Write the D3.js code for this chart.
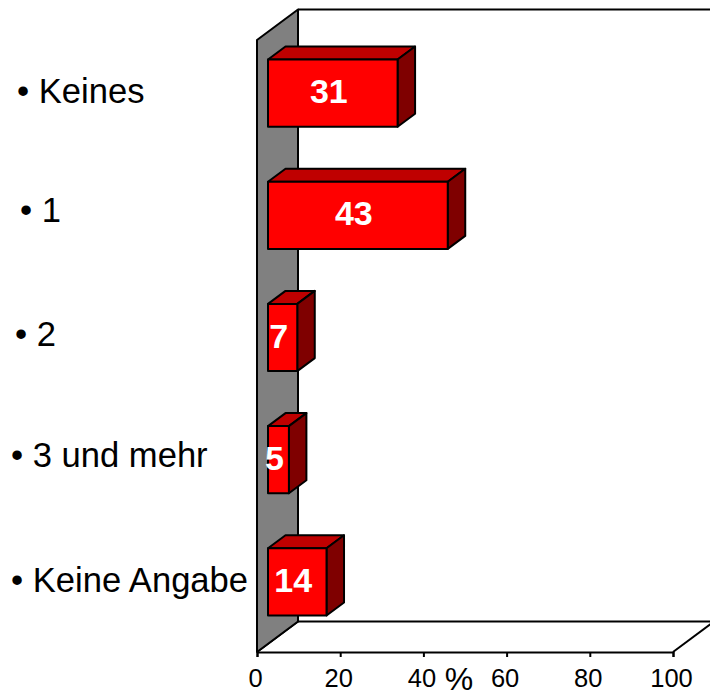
<!DOCTYPE html>
<html>
<head>
<meta charset="utf-8">
<script src="https://cdn.jsdelivr.net/npm/d3@7"></script>
<style>
  html, body { margin: 0; padding: 0; background: #fff; }
  svg { display: block; }
  text { font-family: "Liberation Sans", Arial, sans-serif; }
</style>
</head>
<body>
<div class="chart"></div>
<script>
const categories = ['Keines', '1', '2', '3 und mehr', 'Keine Angabe'];
const values = [31, 43, 7, 5, 14];
const xTicks = [0, 20, 40, 60, 80, 100];
const axisUnit = '%';

// the labels were placed by hand in the original, so they don't sit on a grid
const labelX = [17, 20, 15, 11, 11];
const labelY = [103, 222, 346, 467, 592];

const width = 710;
const height = 691;

const x = d3.scaleLinear().domain([0, 100]).range([257, 673]);
const y = d3.scaleBand().domain(categories).range([32, 643]).paddingInner(0.45).paddingOuter(0.225);
// front face of the bars runs a bit longer than the floor axis
const barLength = d3.scaleLinear().domain([0, 100]).range([0, 418]);

const wallTop = 40, wallBottom = 652;
const wallDx = 41, wallDy = -30.5;
const barInset = 11;   // bars float off the wall
const barDx = 17.5, barDy = -13;

const svg = d3.select('.chart')
  .append('svg')
  .attr('width', width)
  .attr('height', height);

const lineStyle = sel => sel.attr('stroke', '#000').attr('stroke-width', 2).attr('stroke-linejoin', 'round');

// back wall, floor
svg.append('path')
  .attr('d', `M${x(0) + wallDx},${wallTop + wallDy}H${width + 5}`)
  .attr('fill', 'none')
  .call(lineStyle);

svg.append('path')
  .attr('d', `M${x(0) + wallDx},${wallTop + wallDy}V${wallBottom + wallDy}H${width + 5}`)
  .attr('fill', 'none')
  .call(lineStyle);

svg.append('path')
  .attr('d', `M${x(0)},${wallBottom}L${x(0) + wallDx},${wallBottom + wallDy}`)
  .attr('fill', 'none')
  .call(lineStyle);

svg.append('path')
  .attr('d', `M${x(100)},${wallBottom}L${x(100) + wallDx},${wallBottom + wallDy}`)
  .attr('fill', 'none')
  .call(lineStyle);

// grey side wall
svg.append('path')
  .attr('d', `M${x(0)},${wallTop}L${x(0) + wallDx},${wallTop + wallDy}V${wallBottom + wallDy}L${x(0)},${wallBottom}Z`)
  .attr('fill', '#808080')
  .call(lineStyle);

// x axis
const xAxis = d3.axisBottom(x)
  .tickValues(xTicks)
  .tickSize(5)
  .tickFormat(d3.format('d'));

const axisG = svg.append('g')
  .attr('transform', `translate(0,${wallBottom})`)
  .call(xAxis);

axisG.select('.domain').attr('stroke-width', 2).attr('stroke', '#000');
axisG.selectAll('.tick line').attr('stroke-width', 2).attr('stroke', '#000');
axisG.selectAll('.tick text')
  .attr('font-size', 25.5)
  .attr('font-family', '"Liberation Sans", Arial, sans-serif')
  .attr('fill', '#000')
  .attr('dx', -2)
  .attr('y', 17)
  .attr('dy', '0.71em');

svg.append('text')
  .attr('x', 459)
  .attr('y', 689.5)
  .attr('text-anchor', 'middle')
  .attr('font-size', 32)
  .text(axisUnit);

// bars
const bars = svg.selectAll('.bar')
  .data(categories)
  .enter()
  .append('g')
  .attr('class', 'bar');

const left = x(0) + barInset;
const right = (d, i) => left + barLength(values[i]);

bars.append('path')
  .attr('d', (d, i) => `M${left},${y(d)}l${barDx},${barDy}H${right(d, i) + barDx}L${right(d, i)},${y(d)}Z`)
  .attr('fill', '#bf0000')
  .call(lineStyle);

bars.append('path')
  .attr('d', (d, i) => `M${right(d, i)},${y(d)}l${barDx},${barDy}v${y.bandwidth()}l${-barDx},${-barDy}Z`)
  .attr('fill', '#7f0000')
  .call(lineStyle);

bars.append('rect')
  .attr('x', left)
  .attr('y', d => y(d))
  .attr('width', (d, i) => right(d, i) - left)
  .attr('height', y.bandwidth())
  .attr('fill', '#ff0000')
  .call(lineStyle);

bars.append('text')
  .attr('x', (d, i) => (left + right(d, i)) / 2 - 4)
  .attr('y', d => y(d) + y.bandwidth() / 2 + 10)
  .attr('text-anchor', 'middle')
  .attr('font-size', 34)
  .attr('font-weight', 'bold')
  .attr('fill', '#fff')
  .text((d, i) => values[i]);

// category labels
svg.selectAll('.cat')
  .data(categories)
  .enter()
  .append('text')
  .attr('class', 'cat')
  .attr('x', (d, i) => labelX[i])
  .attr('y', (d, i) => labelY[i])
  .attr('font-size', 34.6)
  .attr('fill', '#000')
  .text(d => '\u2022 ' + d);
</script>
</body>
</html>
